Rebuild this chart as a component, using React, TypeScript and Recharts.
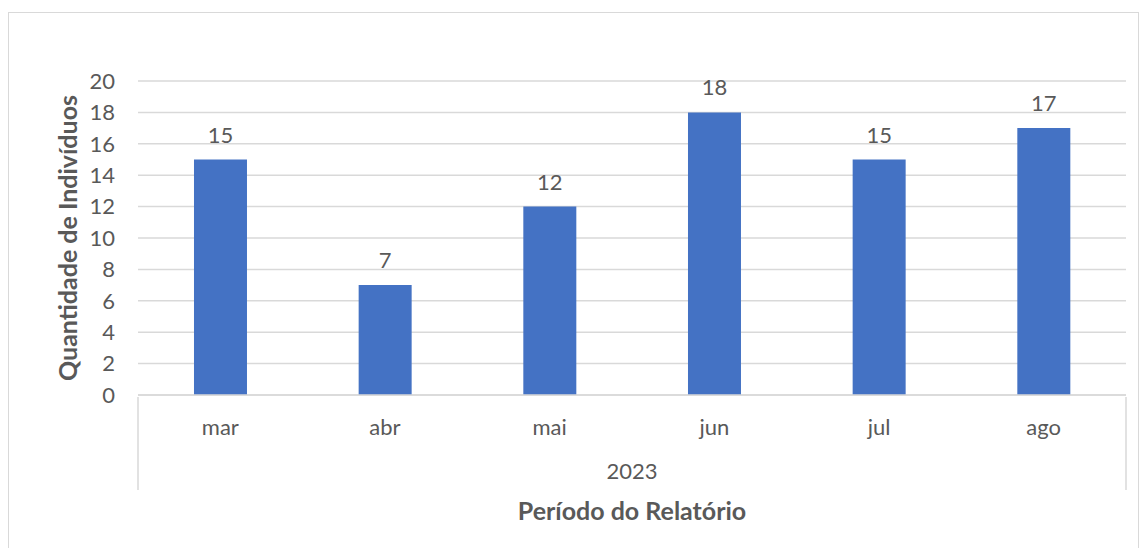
import { BarChart, Bar, XAxis, YAxis, CartesianGrid, LabelList } from "recharts"

const months = ["mar", "abr", "mai", "jun", "jul", "ago"]
const individuals = [15, 7, 12, 18, 15, 17]
const year = "2023"
const yTicks = [0, 2, 4, 6, 8, 10, 12, 14, 16, 18, 20]

const textColor = "#595959"
const gridColor = "#D9D9D9"
const barColor = "#4472C4"

const data = months.map((m, i) => ({ month: m, value: individuals[i], year }))

function MonthTick({ x, y, payload, index }: any) {
  const half = payload?.offset ?? 0
  return (
    <g>
      <text x={x} y={y + 29} textAnchor="middle" dominantBaseline="central" fill={textColor} fontSize={22}>
        {payload.value}
      </text>
      {index === 0 && <line x1={x - half} x2={x - half} y1={y} y2={y + 93} stroke={gridColor} strokeWidth={1.5} />}
      {index === months.length - 1 && (
        <line x1={x + half} x2={x + half} y1={y} y2={y + 93} stroke={gridColor} strokeWidth={1.5} />
      )}
    </g>
  )
}

function YearTick({ x, y, payload }: any) {
  return (
    <text x={x} y={y + 33} textAnchor="middle" dominantBaseline="central" fill={textColor} fontSize={22}>
      {payload.value}
    </text>
  )
}

export default function App() {
  return (
    <div style={{ position: "relative", width: 1139, height: 548, fontFamily: "Lato, sans-serif" }}>
      <style>{"body{margin:0;background:#fff}"}</style>
      <div
        style={{
          position: "absolute",
          left: 8,
          top: 12,
          width: 1131,
          height: 540,
          border: `1px solid ${gridColor}`,
          boxSizing: "border-box",
        }}
      />
      <BarChart
        width={1139}
        height={548}
        data={data}
        margin={{ top: 81, right: 13, left: 0, bottom: 23 }}
        barCategoryGap="34%"
      >
        <CartesianGrid vertical={false} stroke={gridColor} strokeWidth={1.5} />
        <XAxis
          xAxisId="month"
          dataKey="month"
          height={40}
          tickLine={false}
          tickSize={0}
          axisLine={{ stroke: gridColor, strokeWidth: 1.5 }}
          tick={<MonthTick />}
          interval={0}
        />
        <XAxis
          xAxisId="year"
          dataKey="year"
          allowDuplicatedCategory={false}
          height={90}
          tickLine={false}
          tickSize={0}
          axisLine={false}
          tick={<YearTick />}
          label={{
            value: "Período do Relatório",
            position: "insideBottom",
            offset: 5,
            fill: textColor,
            fontSize: 25,
            fontWeight: 700,
          }}
        />
        <YAxis
          width={138}
          domain={[0, 20]}
          ticks={yTicks}
          interval={0}
          axisLine={false}
          tickLine={false}
          tickSize={0}
          tickMargin={23}
          tick={{ fill: textColor, fontSize: 22 }}
          label={{
            value: "Quantidade de Indivíduos",
            angle: -90,
            position: "center",
            dx: -1,
            fill: textColor,
            fontSize: 25,
            fontWeight: 700,
          }}
        />
        <Bar xAxisId="month" dataKey="value" fill={barColor} isAnimationActive={false}>
          <LabelList dataKey="value" position="top" offset={17} fill={textColor} fontSize={22} />
        </Bar>
      </BarChart>
    </div>
  )
}
